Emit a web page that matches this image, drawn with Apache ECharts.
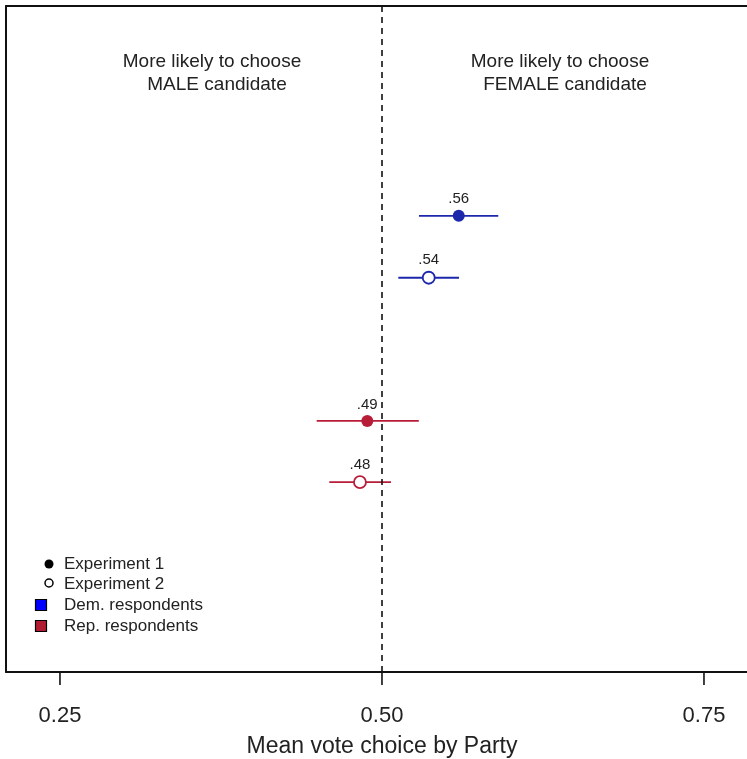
<!DOCTYPE html>
<html>
<head>
<meta charset="utf-8">
<script src="https://cdn.jsdelivr.net/npm/echarts@6/dist/echarts.min.js"></script>
<style>
html, body { margin: 0; padding: 0; background: #fff; }
#chart { width: 747px; height: 759px; }
</style>
</head>
<body>
<div id="chart"></div>
<script>
// estimates per row, top to bottom
const rowNames = ['Dem. Exp 1', 'Dem. Exp 2', 'Rep. Exp 1', 'Rep. Exp 2']
const rowPos = [0.315, 0.408, 0.623, 0.715]
const means = [0.5596, 0.5363, 0.4886, 0.4829]
const lower = [0.5287, 0.5127, 0.4493, 0.4591]
const upper = [0.5903, 0.5598, 0.5286, 0.5070]
const labels = ['.56', '.54', '.49', '.48']
const filled = [true, false, true, false]
const party = ['dem', 'dem', 'rep', 'rep']
const xTicks = [0.25, 0.50, 0.75]

const colors = { dem: '#1c27ac', rep: '#b81d38' }
const font = 'Liberation Sans, Arial, sans-serif'

// the plot box runs off the right edge of the picture
const xMin = 0.2081
const xMax = 0.7834

const chart = echarts.init(document.getElementById('chart'))

const barData = rowPos.map((y, i) => [lower[i], upper[i], y, i])
const pointData = rowPos.map((y, i) => ({
    value: [means[i], y],
    itemStyle: {
        color: filled[i] ? colors[party[i]] : '#fff',
        borderColor: colors[party[i]],
        borderWidth: filled[i] ? 0 : 1.8,
        opacity: 1
    },
    label: { formatter: labels[i] }
}))

const frameLine = { show: true, onZero: false, lineStyle: { color: '#111', width: 2 } }

const option = {
    animation: false,
    grid: { left: 6, top: 6, right: 0, bottom: 87 },
    xAxis: [
        {
            type: 'value',
            min: xMin,
            max: xMax,
            splitLine: { show: false },
            axisLine: frameLine,
            axisTick: { show: false },
            axisLabel: { show: false }
        },
        {
            type: 'value',
            position: 'top',
            min: xMin,
            max: xMax,
            splitLine: { show: false },
            axisLine: frameLine,
            axisTick: { show: false },
            axisLabel: { show: false }
        }
    ],
    yAxis: {
        type: 'value', min: 0, max: 1, inverse: true,
        splitLine: { show: false },
        axisLine: frameLine,
        axisTick: { show: false },
        axisLabel: { show: false }
    },
    series: [
        {
            type: 'custom',
            renderItem: function (params, api) {
                const a = api.coord([api.value(0), api.value(2)])
                const b = api.coord([api.value(1), api.value(2)])
                const i = api.value(3)
                return {
                    type: 'line',
                    shape: { x1: a[0], y1: a[1], x2: b[0], y2: b[1] },
                    style: { stroke: colors[party[i]], lineWidth: 1.8 }
                }
            },
            encode: { x: [0, 1], y: 2 },
            data: barData,
            z: 2
        },
        {
            type: 'scatter',
            symbol: 'circle',
            symbolSize: 12,
            data: pointData,
            z: 3,
            label: {
                show: true,
                position: 'top',
                distance: 3,
                fontFamily: font,
                fontSize: 15,
                color: '#222'
            },
            markLine: {
                silent: true,
                symbol: 'none',
                label: { show: false },
                lineStyle: { color: '#111', type: [6, 5], width: 1.6 },
                data: [{ xAxis: 0.5 }]
            }
        },
        {
            // bottom axis ticks and labels
            type: 'custom',
            renderItem: function (params, api) {
                const p = api.coord([api.value(0), 1])
                return {
                    type: 'group',
                    children: [
                        { type: 'line', shape: { x1: p[0], y1: p[1], x2: p[0], y2: p[1] + 13 }, style: { stroke: '#111', lineWidth: 1.6 } },
                        { type: 'text', x: p[0], y: p[1] + 44, style: { text: api.value(0).toFixed(2), fontFamily: font, fontSize: 22, fill: '#222', align: 'center', verticalAlign: 'middle' } }
                    ]
                }
            },
            clip: false,
            data: xTicks.map(v => [v])
        }
    ],
    graphic: [
        { type: 'text', x: 212, y: 62, style: { text: 'More likely to choose', fontFamily: font, fontSize: 19, fill: '#222', align: 'center', verticalAlign: 'middle' } },
        { type: 'text', x: 217, y: 85, style: { text: 'MALE candidate', fontFamily: font, fontSize: 19, fill: '#222', align: 'center', verticalAlign: 'middle' } },
        { type: 'text', x: 560, y: 62, style: { text: 'More likely to choose', fontFamily: font, fontSize: 19, fill: '#222', align: 'center', verticalAlign: 'middle' } },
        { type: 'text', x: 565, y: 85, style: { text: 'FEMALE candidate', fontFamily: font, fontSize: 19, fill: '#222', align: 'center', verticalAlign: 'middle' } },
        { type: 'text', x: 382, y: 747, style: { text: 'Mean vote choice by Party', fontFamily: font, fontSize: 23, fill: '#222', align: 'center', verticalAlign: 'middle' } },
        // legend
        { type: 'circle', shape: { cx: 49, cy: 564, r: 4.5 }, style: { fill: '#000' } },
        { type: 'circle', shape: { cx: 49, cy: 583, r: 4 }, style: { fill: '#fff', stroke: '#000', lineWidth: 1.5 } },
        { type: 'rect', shape: { x: 35.5, y: 599.5, width: 11, height: 11 }, style: { fill: '#0000ff', stroke: '#000', lineWidth: 1.2 } },
        { type: 'rect', shape: { x: 35.5, y: 620.5, width: 11, height: 11 }, style: { fill: '#b11c32', stroke: '#000', lineWidth: 1.2 } },
        { type: 'text', x: 64, y: 564, style: { text: 'Experiment 1', fontFamily: font, fontSize: 17, fill: '#222', verticalAlign: 'middle' } },
        { type: 'text', x: 64, y: 584, style: { text: 'Experiment 2', fontFamily: font, fontSize: 17, fill: '#222', verticalAlign: 'middle' } },
        { type: 'text', x: 64, y: 605, style: { text: 'Dem. respondents', fontFamily: font, fontSize: 17, fill: '#222', verticalAlign: 'middle' } },
        { type: 'text', x: 64, y: 626, style: { text: 'Rep. respondents', fontFamily: font, fontSize: 17, fill: '#222', verticalAlign: 'middle' } }
    ]
}

chart.setOption(option)
</script>
</body>
</html>
